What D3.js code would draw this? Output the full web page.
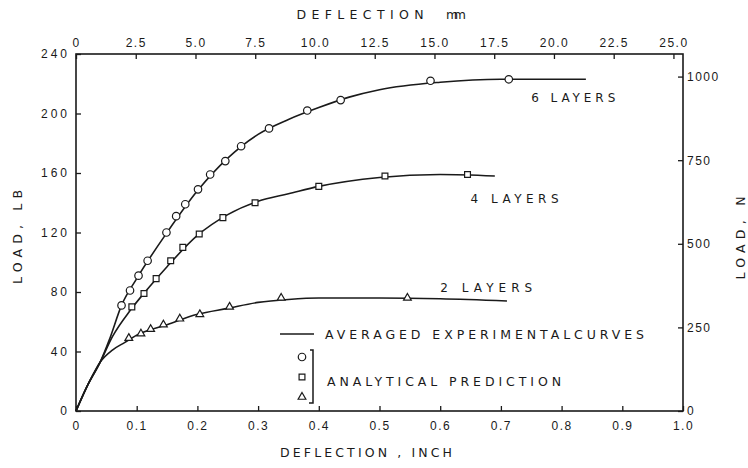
<!DOCTYPE html>
<html lang="en">
<head>
    <meta charset="UTF-8">
    <title>Load vs Deflection</title>
    <script src="https://d3js.org/d3.v7.min.js"></script>
    <style>
        body {
            margin: 0;
            background-color: white;
        }
        svg {
            display: block;
            font-family: "DejaVu Sans", sans-serif;
        }
        .tick text {
            font-size: 12px;
            fill: #1a1a1a;
            letter-spacing: 1.5px;
        }
        .tick line {
            stroke: #1a1a1a;
            stroke-width: 1.3px;
        }
    </style>
</head>
<body>
    <svg width="748" height="468"></svg>

    <script>
        // ticks
        const inchTicks = [0, 0.1, 0.2, 0.3, 0.4, 0.5, 0.6, 0.7, 0.8, 0.9, 1.0];
        const mmTicks = [0, 2.5, 5.0, 7.5, 10.0, 12.5, 15.0, 17.5, 20.0, 22.5, 25.0];
        const lbTicks = [0, 40, 80, 120, 160, 200, 240];
        const newtonTicks = [0, 250, 500, 750, 1000];

        // averaged experimental curves  [deflection inch, load lb]
        const exp2 = [[0, 0], [0.02, 18], [0.04, 33], [0.06, 41], [0.08, 46], [0.1, 51], [0.15, 58], [0.2, 65],
            [0.25, 69], [0.3, 73], [0.35, 75], [0.4, 76], [0.5, 76], [0.6, 75.5], [0.71, 74]];
        const exp4 = [[0, 0], [0.02, 18], [0.04, 33], [0.06, 50], [0.09, 68], [0.12, 83], [0.15, 97], [0.2, 118],
            [0.25, 132], [0.3, 141], [0.35, 146], [0.4, 151], [0.5, 157], [0.6, 159], [0.69, 158]];
        const exp6 = [[0, 0], [0.02, 18], [0.04, 33], [0.055, 48], [0.075, 71], [0.1, 89], [0.15, 120], [0.2, 148],
            [0.25, 170], [0.3, 186], [0.35, 196], [0.4, 204], [0.45, 211], [0.5, 216], [0.6, 221], [0.7, 223], [0.84, 223]];

        // analytical prediction points
        const pred6 = [[0.075, 71], [0.089, 81], [0.103, 91], [0.118, 101], [0.149, 120], [0.165, 131], [0.18, 139],
            [0.201, 149], [0.221, 159], [0.246, 168], [0.272, 178], [0.318, 190], [0.381, 202], [0.436, 209],
            [0.584, 222], [0.713, 223]];
        const pred4 = [[0.092, 70], [0.112, 79], [0.132, 89], [0.156, 101], [0.176, 110], [0.203, 119], [0.242, 130],
            [0.295, 140], [0.40, 151], [0.509, 158], [0.645, 159]];
        const pred2 = [[0.087, 49], [0.107, 52], [0.123, 55], [0.144, 58], [0.171, 62], [0.204, 65], [0.253, 70],
            [0.338, 76], [0.546, 76]];

        const curveLabels = [
            {text: "6 LAYERS", x: 0.75, y: 208, w: 84},
            {text: "4 LAYERS", x: 0.65, y: 140, w: 88},
            {text: "2 LAYERS", x: 0.60, y: 80, w: 92}
        ];

        const LB_TO_N = 4.448, MM_PER_INCH = 25.4;
        const ink = "#1a1a1a";

        const mLeft = 76, mRight = 683, mTop = 54, mBottom = 411;
        const svg = d3.select("svg");

        const x = d3.scaleLinear().domain([0, 1]).range([mLeft, mRight]);
        const y = d3.scaleLinear().domain([0, 240]).range([mBottom, mTop]);
        const xmm = d3.scaleLinear().domain([0, MM_PER_INCH]).range([mLeft, mRight]);
        const yN = d3.scaleLinear().domain([0, 240 * LB_TO_N]).range([mBottom, mTop]);

        // frame
        svg.append("rect")
            .attr("x", mLeft).attr("y", mTop)
            .attr("width", mRight - mLeft).attr("height", mBottom - mTop)
            .attr("fill", "none").attr("stroke", ink).attr("stroke-width", 1.6);

        // axes, ticks point inward
        svg.append("g").attr("transform", `translate(0,${mBottom})`)
            .call(d3.axisBottom(x).tickValues(inchTicks).tickSize(-5).tickPadding(10)
                .tickFormat(d => d === 0 ? "0" : d3.format(".1f")(d)))
            .call(g => g.select(".domain").remove());

        svg.append("g").attr("transform", `translate(0,${mTop})`)
            .call(d3.axisTop(xmm).tickValues(mmTicks).tickSize(-5).tickPadding(7)
                .tickFormat(d => d === 0 ? "0" : d3.format(".1f")(d)))
            .call(g => g.select(".domain").remove());

        svg.append("g").attr("transform", `translate(${mLeft},0)`)
            .call(d3.axisLeft(y).tickValues(lbTicks).tickSize(-5).tickPadding(6))
            .call(g => g.select(".domain").remove())
            .call(g => g.selectAll("text").style("letter-spacing", "3px"));

        svg.append("g").attr("transform", `translate(${mRight},0)`)
            .call(d3.axisRight(yN).tickValues(newtonTicks).tickSize(-5).tickPadding(4)
                .tickFormat(d3.format("d")))
            .call(g => g.select(".domain").remove());

        // axis titles
        const title = (txt, tx, ty, w, rot) => svg.append("text")
            .attr("transform", `translate(${tx},${ty}) rotate(${rot})`)
            .attr("text-anchor", "middle")
            .attr("textLength", w).attr("lengthAdjust", "spacing")
            .attr("font-size", 12.5).attr("fill", ink)
            .text(txt);

        title("DEFLECTION", 360, 19, 127, 0);
        title("mm", 456, 19, 20, 0);
        title("DEFLECTION , INCH", 366, 457, 172, 0);
        title("LOAD, LB", 22, 237, 94, -90);
        title("LOAD, N", 745, 238, 83, -90);

        // experimental curves
        const line = d3.line().x(d => x(d[0])).y(d => y(d[1])).curve(d3.curveMonotoneX);
        svg.append("g").selectAll("path")
            .data([exp2, exp4, exp6])
            .join("path")
            .attr("d", line)
            .attr("fill", "none")
            .attr("stroke", ink)
            .attr("stroke-width", 1.6)
            .attr("stroke-linejoin", "round");

        // analytical prediction markers
        const marker = (data, shape, size) => svg.append("g").selectAll("path")
            .data(data)
            .join("path")
            .attr("transform", d => `translate(${x(d[0])},${y(d[1])})`)
            .attr("d", d3.symbol().type(shape).size(size))
            .attr("fill", "white")
            .attr("stroke", ink)
            .attr("stroke-width", 1.2);

        marker(pred6, d3.symbolCircle, 44);
        marker(pred4, d3.symbolSquare, 34);
        marker(pred2, d3.symbolTriangle, 26);

        // curve labels
        svg.append("g").selectAll("text")
            .data(curveLabels)
            .join("text")
            .attr("x", d => x(d.x))
            .attr("y", d => y(d.y))
            .attr("textLength", d => d.w).attr("lengthAdjust", "spacing")
            .attr("font-size", 12).attr("fill", ink)
            .text(d => d.text);

        // legend
        const lg = svg.append("g");
        lg.append("line")
            .attr("x1", 280).attr("x2", 314).attr("y1", 334).attr("y2", 334)
            .attr("stroke", ink).attr("stroke-width", 1.6);
        lg.append("text").attr("x", 325).attr("y", 339)
            .attr("textLength", 319).attr("lengthAdjust", "spacing")
            .attr("font-size", 12.5).attr("fill", ink)
            .text("AVERAGED EXPERIMENTALCURVES");
        [[d3.symbolCircle, 44, 357], [d3.symbolSquare, 34, 377], [d3.symbolTriangle, 26, 397]].forEach(s => {
            lg.append("path")
                .attr("transform", `translate(302,${s[2]})`)
                .attr("d", d3.symbol().type(s[0]).size(s[1]))
                .attr("fill", "white").attr("stroke", ink).attr("stroke-width", 1.2);
        });
        lg.append("path")
            .attr("d", "M310,350 L313,350 L313,403 L309,403")
            .attr("fill", "none").attr("stroke", ink).attr("stroke-width", 1.5);
        lg.append("text").attr("x", 327).attr("y", 386)
            .attr("textLength", 234).attr("lengthAdjust", "spacing")
            .attr("font-size", 12.5).attr("fill", ink)
            .text("ANALYTICAL  PREDICTION");
    </script>
</body>
</html>
